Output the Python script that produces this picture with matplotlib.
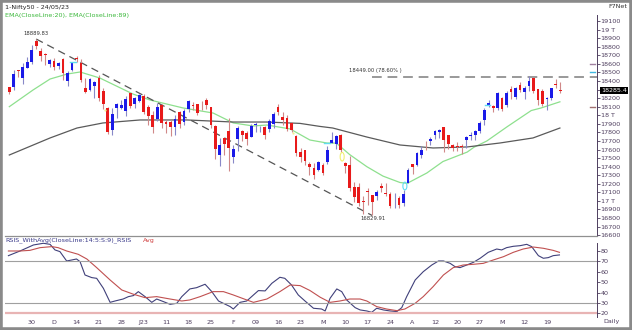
import matplotlib.pyplot as plt
import numpy as np
from matplotlib.patches import Rectangle, Ellipse

# daily OHLC, Nifty50, 23 Nov 2022 .. 24 May 2023
opens = [18325, 18326, 18529, 18430, 18552, 18625,
         18871, 18753, 18719, 18600, 18638, 18570, 18662, 18402, 18524, 18672, 18614, 18320, 18289, 18340, 18435,
         18288, 18080, 17831, 18089, 18085, 18045, 18259,
         18131, 18163, 18230, 18101, 18008, 17952, 18121, 17924, 17920, 17867, 18033, 17922, 18074, 18120, 18126,
         18119, 18183, 18094, 17877, 17541, 17731,
         17811, 17517, 17721, 17819, 17790, 17750, 17886, 17847, 17859, 17840, 17897, 18094, 17975, 17965, 17905,
         17755, 17574, 17591, 17429, 17383,
         17360, 17421, 17451, 17680, 17665, 17773, 17443, 17422, 17161, 17166, 16994, 17111, 17066, 17060, 17177,
         17097, 17077, 16984, 17031, 16977, 17210,
         17427, 17422, 17533, 17634, 17705, 17769, 17808, 17863, 17766, 17654, 17639, 17639, 17707, 17761, 17767,
         17813, 17950,
         18124, 18113, 18082, 18207, 18121, 18303, 18211, 18358, 18273, 18340, 18432, 18301, 18287, 18186, 18201,
         18362, 18295]
highs = [18325, 18529, 18534, 18614, 18678, 18817,
         18889.83, 18782, 18728, 18654, 18668, 18625, 18664, 18519, 18618, 18696, 18652, 18440, 18432, 18404, 18474,
         18319, 18097, 18084, 18144, 18174, 18230, 18265,
         18215, 18251, 18243, 18121, 18047, 18141, 18127, 17944, 17945, 17999, 18049, 18073, 18183, 18155, 18132,
         18162, 18201, 18095, 17885, 17735, 17736,
         17972, 17654, 17870, 17823, 17811, 17898, 17916, 17876, 17880, 17954, 18034, 18134, 18035, 18005, 17924,
         17767, 17620, 17599, 17451, 17440,
         17467, 17445, 17644, 17800, 17766, 17781, 17451, 17529, 17225, 17211, 17062, 17146, 17066, 17127, 17207,
         17205, 17109, 17091, 17062, 17127, 17381,
         17428, 17570, 17638, 17694, 17749, 17825, 17843, 17863, 17766, 17666, 17684, 17664, 17755, 17807, 17827,
         17932, 18089,
         18180, 18117, 18270, 18216, 18286, 18344, 18331, 18389, 18342, 18458, 18433, 18309, 18304, 18218, 18323,
         18419, 18393]
lows = [18246, 18294, 18445, 18365, 18552, 18604,
        18778, 18639, 18591, 18560, 18528, 18536, 18410, 18346, 18512, 18618, 18387, 18255, 18288, 18202, 18162,
        18069, 17779, 17774, 17967, 18068, 17993, 18080,
        18087, 18149, 18020, 17892, 17796, 17936, 17856, 17796, 17761, 17774, 17853, 17886, 18033, 18063, 17999,
        18063, 18078, 17846, 17493, 17405, 17537,
        17353, 17445, 17585, 17699, 17652, 17744, 17800, 17801, 17719, 17801, 17854, 18000, 17884, 17818, 17800,
        17529, 17455, 17421, 17299, 17255,
        17345, 17306, 17427, 17671, 17602, 17573, 17325, 17114, 16988, 16938, 16850, 16958, 16829.91, 17016, 17107,
        17061, 16917, 16918, 16914, 16941, 17204,
        17313, 17402, 17503, 17597, 17655, 17717, 17729, 17574, 17610, 17580, 17584, 17553, 17612, 17716, 17711,
        17797, 17885,
        18101, 18042, 18066, 18055, 18100, 18194, 18194, 18270, 18194, 18287, 18264, 18116, 18105, 18060, 18182,
        18324, 18262]
closes = [18267, 18484, 18512, 18562, 18618, 18758,
          18812, 18696, 18701, 18642, 18560, 18609, 18497, 18497, 18608, 18660, 18415, 18269, 18420, 18385, 18199,
          18127, 17807, 18015, 18132, 18123, 18191, 18105,
          18197, 18233, 18043, 17992, 17859, 18101, 17914, 17896, 17858, 17957, 17895, 18053, 18165, 18108, 18027,
          18118, 18119, 17892, 17604, 17649, 17662,
          17616, 17610, 17854, 17765, 17721, 17872, 17894, 17856, 17771, 17929, 18016, 18036, 17944, 17844, 17827,
          17555, 17511, 17466, 17392, 17304,
          17451, 17322, 17594, 17711, 17754, 17590, 17413, 17154, 17043, 16972, 16985, 17100, 16988, 17108, 17152,
          17077, 16945, 16986, 16951, 17081, 17360,
          17398, 17557, 17599, 17625, 17722, 17812, 17828, 17707, 17660, 17619, 17624, 17624, 17743, 17769, 17814,
          17915, 18065,
          18148, 18090, 18256, 18069, 18264, 18266, 18315, 18297, 18315, 18399, 18287, 18182, 18129, 18203, 18314,
          18348, 18285.4]

# date labels, one every 5 bars starting at bar 5
date_labels = ['30', 'D', '14', '21', '28', 'J23', '11', '18', '25', 'F', '09', '16', '23',
               'M', '10', '17', '24', 'A', '12', '20', '27', 'M', '12', '19']

# (bar, value)
ema20 = [(0, 18100), (5.3, 18295), (9.1, 18423), (12.9, 18481), (15.8, 18505), (20.2, 18435),
         (27.6, 18248), (31.4, 18178), (38.8, 18085), (45.5, 18026), (50, 17910), (54.4, 17875),
         (57.5, 17886), (62.7, 17840), (67.1, 17711), (70.9, 17676), (73.0, 17675), (76.0, 17540),
         (79.8, 17400), (83.4, 17290), (87.2, 17215), (88.8, 17205), (93.2, 17326), (96.8, 17460),
         (102.2, 17570), (103.7, 17626), (106.6, 17700), (111.1, 17865), (116.5, 18055), (118.7, 18085),
         (122.9, 18157)]
ema89 = [(0, 17536), (9.1, 17735), (15.1, 17851), (20.9, 17910), (29.2, 17945), (39.7, 17945),
         (50, 17921), (57.5, 17921), (64.9, 17905), (69.3, 17870), (72.2, 17851), (79.8, 17746),
         (87.2, 17653), (94.6, 17618), (102.2, 17630), (109.5, 17676), (116.9, 17735), (122.9, 17851)]

rsi = [(-0.2, 75.5), (2.4, 80.0), (5.4, 85.8), (7.6, 87.4), (9.1, 86.4), (10.2, 81.0), (11.3, 79.4),
       (12.8, 70.4), (13.9, 71.3), (15.0, 72.3), (15.8, 69.7), (16.9, 56.9), (18.4, 54.4), (19.5, 53.7),
       (21.0, 44.1), (22.5, 30.6), (23.6, 31.9), (25.4, 33.8), (26.6, 36.1), (27.7, 37.1), (28.8, 40.9),
       (30.3, 36.1), (31.8, 30.6), (32.9, 33.8), (34.4, 31.3), (35.9, 28.7), (37.4, 29.7), (38.5, 36.1),
       (40.3, 43.5), (41.8, 44.7), (43.7, 48.0), (45.2, 40.9), (46.7, 31.9), (49.3, 26.5), (50.0, 24.2),
       (51.5, 30.6), (53.0, 31.9), (54.5, 37.7), (55.6, 41.9), (57.1, 41.6), (58.6, 48.9), (60.4, 54.7),
       (61.5, 53.7), (63.0, 47.3), (64.5, 37.7), (66.0, 31.9), (67.9, 24.9), (69.7, 24.2), (70.5, 22.3),
       (71.6, 34.5), (73.1, 43.5), (74.2, 40.9), (75.3, 32.9), (77.2, 25.5), (78.3, 23.3), (79.8, 22.3),
       (80.9, 21.0), (82.0, 24.9), (83.5, 23.3), (85.0, 22.3), (86.5, 21.7), (87.6, 25.5), (88.7, 36.1),
       (90.6, 52.1), (92.4, 60.1), (94.3, 66.5), (95.8, 70.4), (96.9, 70.4), (98.4, 68.1), (99.5, 64.9),
       (100.6, 64.0), (102.1, 66.5), (103.6, 69.1), (105.1, 73.0), (106.9, 78.7), (108.8, 81.9),
       (109.9, 81.0), (111.0, 83.2), (112.5, 84.5), (114.0, 85.1), (115.5, 86.4), (116.6, 84.2),
       (118.1, 75.5), (119.2, 73.0), (120.3, 73.6), (121.4, 75.5), (122.8, 76.2)]
rsi_avg = [(-0.2, 80.0), (2.4, 80.0), (4.6, 80.6), (6.85, 83.2), (9.5, 84.2), (10.9, 83.2), (12.8, 80.0),
           (15.4, 76.8), (17.3, 72.3), (19.5, 64.0), (22.5, 52.1), (25.1, 42.5), (27.7, 38.4), (30.3, 35.1),
           (32.9, 36.1), (35.9, 33.8), (38.5, 31.9), (40.3, 32.9), (42.6, 36.1), (45.5, 40.9), (47.8, 40.9),
           (50.0, 37.7), (53.0, 32.9), (54.5, 30.6), (57.5, 33.8), (60.4, 40.9), (62.7, 47.3), (64.9, 46.7),
           (67.1, 42.0), (69.4, 35.5), (71.6, 30.6), (73.8, 31.9), (76.0, 33.8), (78.3, 33.8), (79.8, 31.9),
           (82.0, 26.5), (84.2, 24.2), (86.5, 22.6), (88.3, 24.2), (90.6, 29.7), (92.4, 36.1), (94.6, 45.7),
           (96.9, 56.9), (99.1, 64.0), (101.3, 66.5), (103.6, 67.2), (105.8, 68.1), (108.0, 71.3),
           (110.3, 74.5), (112.5, 78.7), (114.7, 81.9), (117.0, 83.8), (119.2, 82.6), (121.4, 80.6),
           (122.8, 78.7)]

W, H = 632, 330
axis_col = '#4e3e5e'
fs = 4.6

fig = plt.figure(figsize=(W / 100, H / 100), dpi=100)
L, R = 5, 596.5
ax = fig.add_axes([L / W, 1 - 235.7 / H, (R - L) / W, (235.7 - 14) / H])
rax = fig.add_axes([L / W, 1 - 317 / H, (R - L) / W, (317 - 235.7) / H])

x = np.arange(len(closes))
o = np.array(opens); c = np.array(closes)
up = c >= o
body_col = np.where(up, '#1a1ae8', '#e81a1a')
wick_col = np.where(up, '#8888c8', '#d08888')

ax.vlines(x, lows, highs, colors=wick_col, lw=0.8, zorder=2)
ax.bar(x, np.maximum(np.abs(c - o), 6), bottom=np.minimum(o, c), width=0.62,
       color=body_col, lw=0, zorder=3)

ex, ey = zip(*ema20)
ax.plot(ex, ey, color='#8ee08e', lw=0.9, zorder=1)
ex, ey = zip(*ema89)
ax.plot(ex, ey, color='#5a5a5a', lw=0.9, zorder=1)

# trend line, retracement level and labels
ax.plot([6, 81], [highs[6], lows[81]], color='#555555', lw=0.9, ls=(0, (6, 4)), zorder=1)
ax.hlines(18449, 80.9, 131.1, color='#999999', lw=1.4, ls=(0, (5, 3)), zorder=1)
ax.text(75.8, 18517, '18449.00 (78.60% )', fontsize=3.8, color='#333333', va='center', ha='left')
ax.text(6, 18954, '18889.83', fontsize=3.8, color='#333333', ha='center', va='center')
ax.text(81.2, 16795, '16829.91', fontsize=3.8, color='#333333', ha='center', va='center')

# small signal marks
ax.add_patch(Ellipse((74.3, 17516), 0.9, 100, fill=False, ec='#f0f070', lw=0.8, zorder=4))
ax.add_patch(Ellipse((88.3, 17174), 0.9, 90, fill=False, ec='#60dcf0', lw=0.8, zorder=4))
ax.plot([13.6, 14.8], [18625, 18625], color='#60dcf0', lw=1.0, zorder=4)
ax.plot([70.3, 71.5], [17676, 17676], color='#60dcf0', lw=1.0, zorder=4)
ax.plot([106.1, 107.3], [18120, 18120], color='#60dcf0', lw=1.0, zorder=4)
ax.plot([21.3, 63.4], [18061, 17797], 'o', ms=1.6, color='#f0f090', mec='none', zorder=4)

ax.set_xlim(-0.96, 131.07)
ax.set_ylim(16594, 19182)
price_ticks = np.arange(16600, 19101, 100)
ax.set_yticks(price_ticks)
# the 18300 label sits under the last-price box
ax.set_yticklabels(['' if v == 18300 else (f'{v // 1000} T' if v % 1000 == 0 else str(v))
                    for v in price_ticks])
ax.yaxis.tick_right()
ax.tick_params(axis='y', labelsize=fs, colors=axis_col, length=2, width=0.6, pad=1)
ax.set_xticks([])
for s in ['top', 'left', 'bottom']:
    ax.spines[s].set_visible(False)
ax.spines['right'].set_color(axis_col)
ax.spines['right'].set_linewidth(0.7)
ax.spines['right'].set_bounds(16594, 19170)

# axis side marks and last price box
yt = ax.get_yaxis_transform()
ax.plot([0.989, 0.998], [18600, 18600], transform=yt, color='#a080a0', lw=1.0, clip_on=False)
ax.plot([0.989, 0.998], [18500, 18500], transform=yt, color='#40b8e0', lw=1.0, clip_on=False)
ax.plot([0.989, 0.998], [18100, 18100], transform=yt, color='#a07070', lw=1.0, clip_on=False)
ax.text(1.008, closes[-1], f'{closes[-1]:.1f}', transform=yt, fontsize=fs, color='white',
        va='center', ha='left', bbox=dict(boxstyle='square,pad=0.15', fc='black', ec='none'))

# RSI panel
rx, ry = zip(*rsi)
rax.plot(rx, ry, color='#40407a', lw=0.8)
ax_, ay_ = zip(*rsi_avg)
rax.plot(ax_, ay_, color='#c05050', lw=0.8)
rax.axhline(70, color='#a0a0a0', lw=0.8)
rax.axhline(30, color='#a0a0a0', lw=0.8)
rax.axhline(20, color='#e8b4b4', lw=1.6)
rax.set_xlim(-0.96, 131.07)
rax.set_ylim(16.5, 94.7)
rax.set_yticks(np.arange(20, 81, 10))
rax.yaxis.tick_right()
rax.tick_params(axis='y', labelsize=fs, colors=axis_col, length=2, width=0.6, pad=1)
rax.set_xticks(np.arange(5, 121, 5))
rax.set_xticklabels(date_labels)
rax.tick_params(axis='x', labelsize=fs, colors=axis_col, length=0, pad=2.5)
rax.spines['left'].set_visible(False)
rax.spines['bottom'].set_visible(False)
rax.spines['top'].set_color('#909090')
rax.spines['top'].set_linewidth(0.9)
rax.spines['right'].set_color(axis_col)
rax.spines['right'].set_linewidth(0.7)
rax.spines['right'].set_bounds(16.5, 88)

# titles
fig.text(5 / W, 1 - 7 / H, '1-Nifty50 - 24/05/23', fontsize=fs, color='#222222', va='center')
fig.text(5 / W, 1 - 16 / H, 'EMA(CloseLine:20), EMA(CloseLine:89)', fontsize=fs, color='#3cb83c', va='center')
fig.text(608 / W, 1 - 7 / H, 'F7Net', fontsize=fs, color='#333333', va='center')
fig.text(5 / W, 1 - 240.5 / H, 'RSIS_WithAvg(CloseLine:14:5:S:9)_RSIS', fontsize=fs, color='#3a3a8a', va='center')
fig.text(143 / W, 1 - 240.5 / H, 'Avg', fontsize=fs, color='#d04040', va='center')
fig.text(603 / W, 1 - 322 / H, 'Daily', fontsize=fs, color=axis_col, va='center')

fig.patches.append(Rectangle((0, 0), 1, 1, transform=fig.transFigure, fill=False,
                             ec='#8a8a8a', lw=4))

fig.savefig('out.png', dpi=100)
